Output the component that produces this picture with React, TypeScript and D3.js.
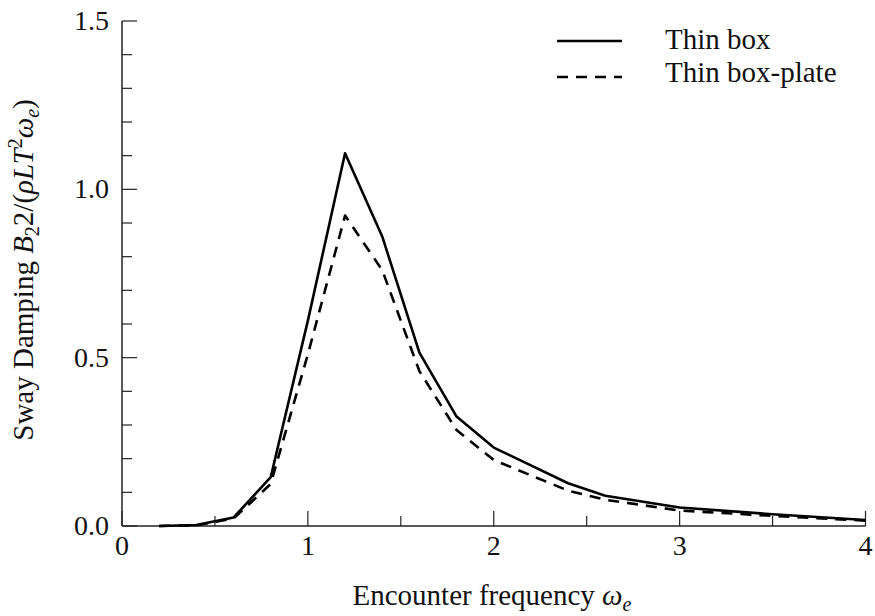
import React, { useEffect, useRef } from "react";
import * as d3 from "d3";

const freqThinBox = [0.2, 0.4, 0.6, 0.8, 1.0, 1.2, 1.4, 1.6, 1.8, 2.0, 2.4, 2.6, 3.0, 3.5, 4.0];
const dampThinBox = [0.0, 0.003, 0.025, 0.145, 0.61, 1.107, 0.86, 0.515, 0.325, 0.233, 0.127, 0.09, 0.055, 0.035, 0.018];

const freqPlate = [0.2, 0.4, 0.6, 0.8, 1.0, 1.2, 1.4, 1.6, 1.8, 2.0, 2.4, 2.6, 3.0, 3.5, 4.0];
const dampPlate = [0.0, 0.002, 0.022, 0.125, 0.51, 0.922, 0.76, 0.46, 0.285, 0.196, 0.105, 0.078, 0.046, 0.03, 0.016];

const xTicks = [0, 1, 2, 3, 4];
const xMinor = [0.5, 1.5, 2.5, 3.5];
const yTicks = [0, 0.5, 1.0, 1.5];
const yMinor = [0.1, 0.2, 0.3, 0.4, 0.6, 0.7, 0.8, 0.9, 1.1, 1.2, 1.3, 1.4];

const seriesNames = ["Thin box", "Thin box-plate"];

export default function App() {
  const ref = useRef<SVGSVGElement>(null);
  useEffect(() => {
    const svg = d3.select(ref.current);
    svg.selectAll("*").remove();
    const font = "'Liberation Serif', 'Times New Roman', serif";
    const x = d3.scaleLinear().domain([0, 4]).range([122, 865.5]);
    const y = d3.scaleLinear().domain([0, 1.5]).range([526, 21]);
    const axisColor = "#222";

    // axes
    svg.append("line").attr("x1", x(0)).attr("x2", x(4)).attr("y1", y(0)).attr("y2", y(0))
      .attr("stroke", axisColor).attr("stroke-width", 1.5);
    svg.append("line").attr("x1", x(0)).attr("x2", x(0)).attr("y1", y(0)).attr("y2", y(1.5))
      .attr("stroke", axisColor).attr("stroke-width", 1.5);

    xTicks.forEach((t) => {
      svg.append("line").attr("x1", x(t)).attr("x2", x(t)).attr("y1", y(0)).attr("y2", y(0) - 15)
        .attr("stroke", axisColor).attr("stroke-width", 1.2);
      svg.append("text").attr("x", x(t)).attr("y", 555).attr("text-anchor", "middle")
        .attr("font-family", font).attr("font-size", 28).attr("fill", "#111").text(String(t));
    });
    xMinor.forEach((t) => {
      svg.append("line").attr("x1", x(t)).attr("x2", x(t)).attr("y1", y(0)).attr("y2", y(0) - 10)
        .attr("stroke", axisColor).attr("stroke-width", 1.2);
    });
    yTicks.forEach((t) => {
      svg.append("text").attr("x", 109).attr("y", y(t) + 9).attr("text-anchor", "end")
        .attr("font-family", font).attr("font-size", 28).attr("fill", "#111").text(t.toFixed(1));
      svg.append("line").attr("x1", x(0)).attr("x2", x(0) + 15).attr("y1", y(t)).attr("y2", y(t))
        .attr("stroke", axisColor).attr("stroke-width", 1.2);
    });
    yMinor.forEach((t) => {
      svg.append("line").attr("x1", x(0)).attr("x2", x(0) + 10).attr("y1", y(t)).attr("y2", y(t))
        .attr("stroke", axisColor).attr("stroke-width", 1.2);
    });

    const line = d3.line<[number, number]>().x((d) => x(d[0])).y((d) => y(d[1]));
    const d1 = freqThinBox.map((f, i) => [f, dampThinBox[i]] as [number, number]);
    const d2 = freqPlate.map((f, i) => [f, dampPlate[i]] as [number, number]);

    svg.append("path").attr("d", line(d2)!).attr("fill", "none").attr("stroke", "#000")
      .attr("stroke-width", 2.6).attr("stroke-dasharray", "11,8").attr("stroke-linejoin", "round");
    svg.append("path").attr("d", line(d1)!).attr("fill", "none").attr("stroke", "#000")
      .attr("stroke-width", 2.6).attr("stroke-linejoin", "round");

    // legend
    const legY = [41, 77];
    const textY = [49, 82];
    legY.forEach((ly, i) => {
      const l = svg.append("line").attr("x1", 557).attr("x2", 622).attr("y1", ly).attr("y2", ly)
        .attr("stroke", "#000").attr("stroke-width", 2.6);
      if (i === 1) l.attr("stroke-dasharray", "11,8");
      svg.append("text").attr("x", 665).attr("y", textY[i]).attr("font-family", font)
        .attr("font-size", 29).attr("fill", "#111").text(seriesNames[i]);
    });

    // x title
    const xt = svg.append("text").attr("x", 492).attr("y", 605).attr("text-anchor", "middle")
      .attr("font-family", font).attr("font-size", 29).attr("fill", "#111");
    xt.append("tspan").text("Encounter frequency ");
    xt.append("tspan").attr("font-style", "italic").text("ω");
    xt.append("tspan").attr("font-style", "italic").attr("font-size", 20).attr("dy", 6).text("e");

    // y title
    const yt = svg.append("text").attr("transform", "translate(33,270) rotate(-90)")
      .attr("text-anchor", "middle").attr("font-family", font).attr("font-size", 29).attr("fill", "#111");
    yt.append("tspan").text("Sway Damping ");
    yt.append("tspan").attr("font-style", "italic").text("B");
    yt.append("tspan").attr("font-size", 20).attr("dy", 6).text("2");
    yt.append("tspan").attr("dy", -6).text("2/(");
    yt.append("tspan").attr("font-style", "italic").text("ρLT");
    yt.append("tspan").attr("font-size", 20).attr("dy", -11).text("2");
    yt.append("tspan").attr("font-style", "italic").attr("dy", 11).text("ω");
    yt.append("tspan").attr("font-style", "italic").attr("font-size", 20).attr("dy", 6).text("e");
    yt.append("tspan").attr("dy", -6).text(")");
  }, []);
  return (
    <svg ref={ref} width={875} height={616} style={{ position: "absolute", left: 0, top: 0, background: "#fff" }} />
  );
}
